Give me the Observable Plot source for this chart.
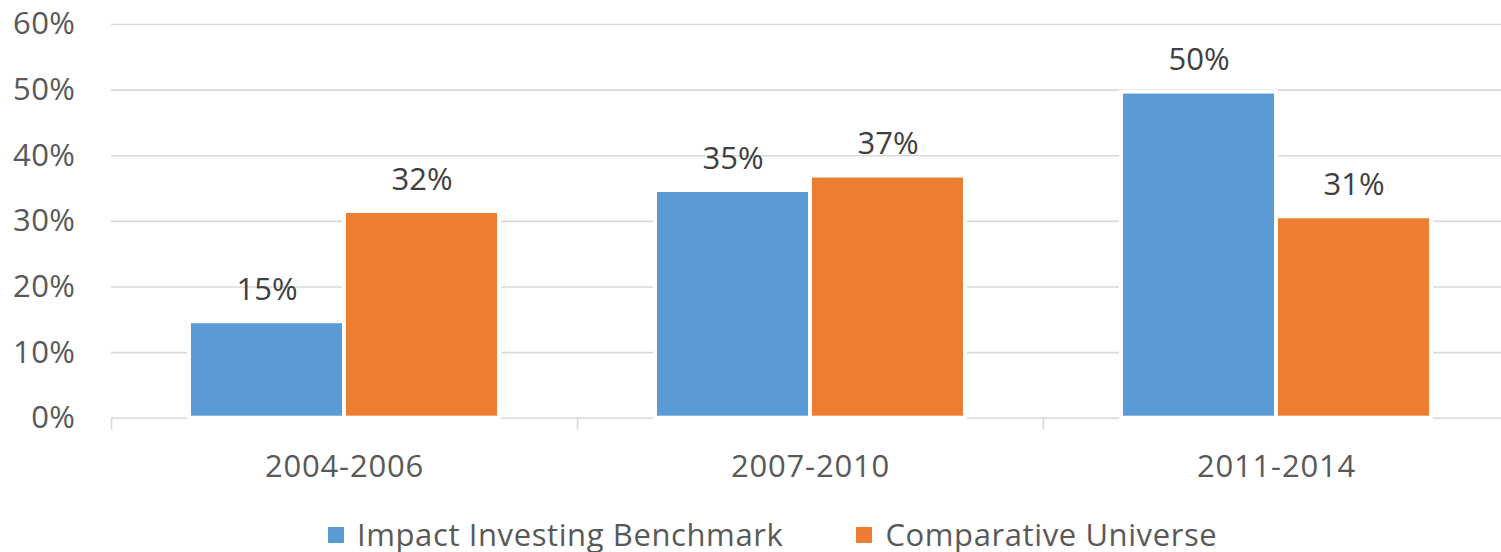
<!DOCTYPE html>
<html>
<head>
<meta charset="utf-8">
<script src="https://cdn.jsdelivr.net/npm/d3@7"></script>
<script src="https://cdn.jsdelivr.net/npm/@observablehq/plot@0.6"></script>
<style>
  html, body { margin: 0; padding: 0; background: white; overflow: hidden; }
  #wrap { position: relative; width: 1501px; height: 552px; }
  #legend { position: absolute; left: 328px; top: 519px; display: flex; align-items: center;
    font-family: "Open Sans", sans-serif; font-size: 31px; line-height: 31px; color: #595959; letter-spacing: 0.6px; white-space: nowrap; }
  #legend .sw { width: 16px; height: 16px; display: inline-block; margin-right: 13px; }
  #legend .item { display: flex; align-items: center; }
  #legend .item + .item { margin-left: 73px; }
</style>
</head>
<body>
<div id="wrap"><div id="chart"></div><div id="legend"></div></div>
<script>
const categories = ["2004-2006", "2007-2010", "2011-2014"];
const seriesNames = ["Impact Investing Benchmark", "Comparative Universe"];
const impactValues = [14.7, 34.7, 49.7];
const comparativeValues = [31.5, 36.9, 30.7];
const impactLabels = ["15%", "35%", "50%"];
const comparativeLabels = ["32%", "37%", "31%"];
const seriesColors = ["#5B9BD5", "#ED7D31"];
const yTicks = [0, 10, 20, 30, 40, 50, 60];
const yTickLabels = ["0%", "10%", "20%", "30%", "40%", "50%", "60%"];

const rows = [];
categories.forEach((c, i) => {
  rows.push({category: c, series: seriesNames[0], value: impactValues[i], label: impactLabels[i]});
  rows.push({category: c, series: seriesNames[1], value: comparativeValues[i], label: comparativeLabels[i]});
});

const W = 1501, H = 500, mTop = 24, mBottom = 82.3;
const chart = Plot.plot({
  width: W,
  height: H,
  marginTop: mTop,
  marginBottom: mBottom,
  marginLeft: 110,
  marginRight: -9,
  style: {fontFamily: "Open Sans, sans-serif", fontSize: "31px", color: "#595959", background: "white", overflow: "visible"},
  fx: {domain: categories, paddingInner: 0, paddingOuter: 0, label: null, axis: null},
  x: {domain: seriesNames, paddingInner: 0, paddingOuter: 0.496, axis: null, label: null},
  y: {domain: [0, 60], ticks: yTicks, axis: null, label: null},
  color: {domain: seriesNames, range: seriesColors},
  marks: [
    Plot.gridY(yTicks, {stroke: "#d9d9d9", strokeOpacity: 1, strokeWidth: 1.6}),
    Plot.frame({anchor: "left", stroke: "#d9d9d9", strokeOpacity: 1, strokeWidth: 1.6, insetTop: H - mTop - mBottom, insetBottom: -11}),
    Plot.barY(rows, {fx: "category", x: "series", y: "value", fill: "series", stroke: "white", strokeWidth: 4}),
    Plot.text(rows, {fx: "category", x: "series", y: "value", text: "label", lineAnchor: "bottom", dy: -22, fill: "#404040", fontSize: 31}),
    Plot.axisY(yTicks, {tickSize: 0, tickPadding: 36, tickFormat: (d, i) => yTickLabels[i], fontSize: 31, fill: "#595959", label: null}),
    Plot.axisFx({anchor: "bottom", tickSize: 0, tickPadding: 37, fontSize: 31, fill: "#595959", label: null})
  ]
});
document.getElementById("chart").appendChild(chart);
chart.querySelectorAll('g[aria-label="fx-axis tick label"]').forEach(el => el.setAttribute("letter-spacing", "0.8"));
chart.querySelectorAll('g[aria-label="y-axis tick label"]').forEach(el => el.setAttribute("letter-spacing", "0.5"));

const legend = document.getElementById("legend");
seriesNames.forEach((name, i) => {
  const item = document.createElement("span");
  item.className = "item";
  const sw = document.createElement("span");
  sw.className = "sw";
  sw.style.background = seriesColors[i];
  const tx = document.createElement("span");
  tx.textContent = name;
  item.appendChild(sw);
  item.appendChild(tx);
  legend.appendChild(item);
});
</script>
</body>
</html>
